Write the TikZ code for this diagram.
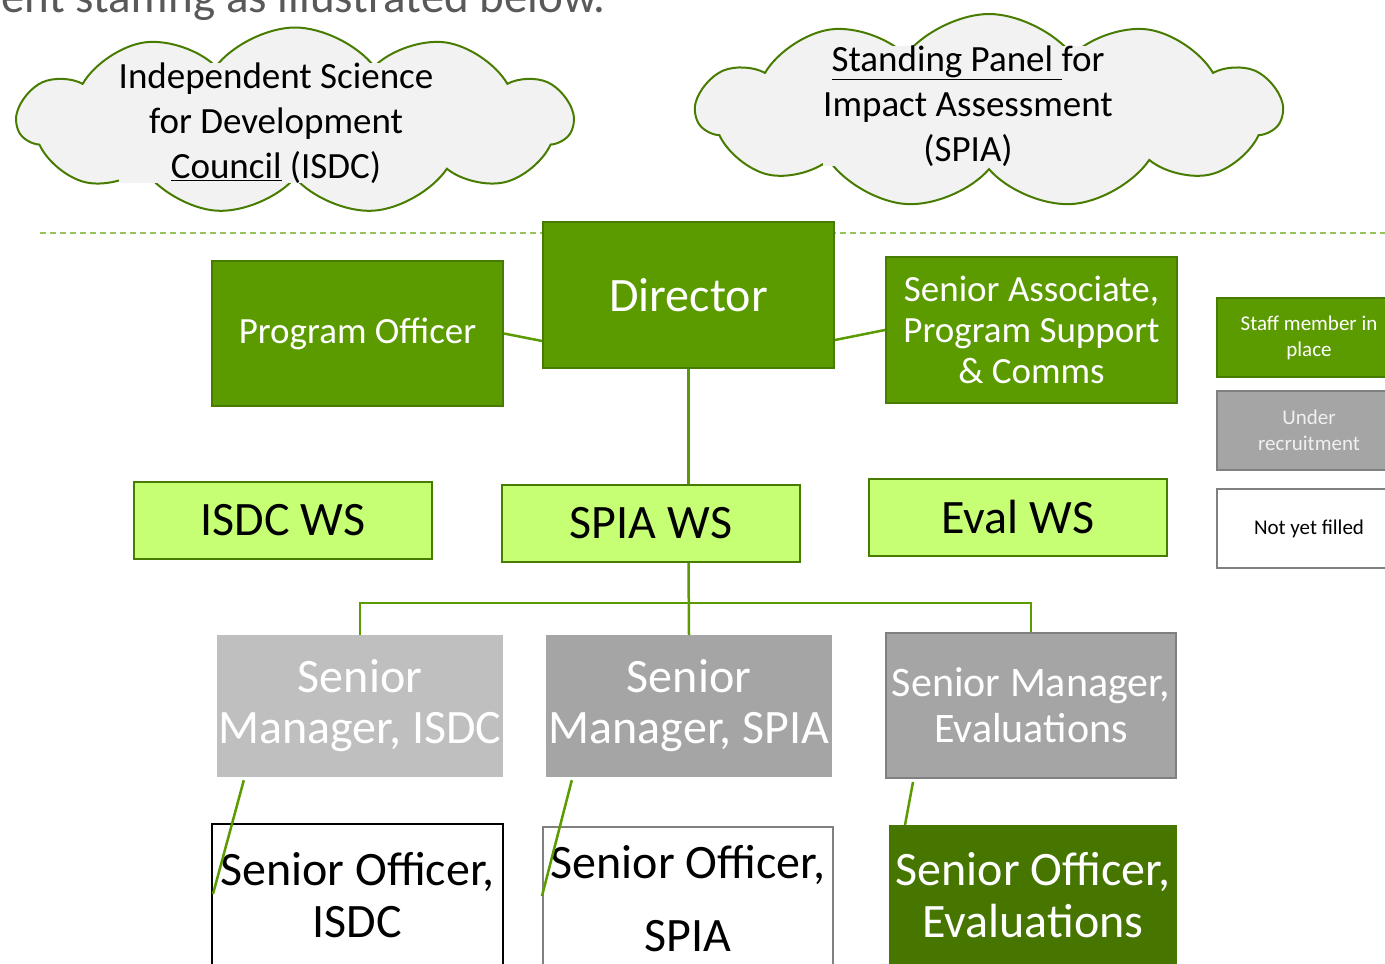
\documentclass[tikz,border=0pt]{standalone}
\usepackage{fontspec}
\setmainfont{Carlito}
\usetikzlibrary{shapes.symbols}
\definecolor{leafgreen}{RGB}{91,155,0}
\definecolor{leafborder}{RGB}{72,124,0}
\definecolor{deepgreen}{RGB}{70,117,0}
\definecolor{limegreen}{RGB}{198,255,116}
\definecolor{paleline}{RGB}{150,196,90}
\definecolor{hiregray}{RGB}{165,165,165}
\definecolor{lightgray}{RGB}{191,191,191}
\definecolor{edgegray}{RGB}{128,128,128}
\definecolor{cloudfill}{RGB}{242,242,242}
\definecolor{leadgray}{RGB}{89,89,89}

\begin{document}
\begin{tikzpicture}[x=1pt, y=-1pt,
  staffbox/.style={rectangle, draw=leafborder, fill=leafgreen, line width=2pt, text=white, align=center, inner sep=0pt, minimum width=291pt, minimum height=146pt},
  wsbox/.style={rectangle, draw=leafborder, fill=limegreen, line width=2pt, minimum width=298pt, minimum height=77pt, inner sep=0pt, font=\fontsize{48}{52}\selectfont},
  hirebox/.style={rectangle, fill=hiregray, text=white, align=center, inner sep=0pt, minimum width=286pt, minimum height=142pt, font=\fontsize{48}{51}\selectfont},
  openbox/.style={rectangle, draw=black, fill=white, line width=2pt, align=center, inner sep=0pt, minimum width=291pt, minimum height=142pt, font=\fontsize{48}{52}\selectfont},
  keybox/.style={rectangle, line width=2pt, align=center, inner sep=0pt, minimum width=184pt, minimum height=79pt, font=\fontsize{21}{26}\selectfont},
  panel/.style={cloud, cloud puffs=11, cloud puff arc=105, cloud ignores aspect, draw=leafborder, fill=cloudfill, line width=2pt, inner sep=0pt},
  paneltext/.style={align=center, fill=cloudfill, inner sep=0pt, font=\fontsize{37}{45}\selectfont},
  link/.style={draw=leafgreen, line width=2.5pt},
  sepline/.style={draw=paleline, line width=1.5pt, dash pattern=on 6pt off 4pt}
]
\useasboundingbox (0,0) rectangle (1385,964);
\clip (0,0) rectangle (1385,964);

% lead-in sentence, cut off by the page edge
\node[anchor=base east, text=leadgray, font=\fontsize{47}{50}\selectfont, inner sep=0pt] (lead) at (606,12) {ent staffing as illustrated below.};

% advisory panels
\node[panel, minimum width=555pt, minimum height=187pt] (isdc) at (295,121) {};
\node[paneltext] (isdctext) at (276,123) {Independent Science\\for Development\\\underline{Council} (ISDC)};
\node[panel, minimum width=585pt, minimum height=194pt] (spia) at (989,111) {};
\node[paneltext] (spiatext) at (968,106) {\underline{Standing Panel }for\\Impact Assessment\\(SPIA)};

% separator under the panels
\draw[sepline] (40,233) -- (1385,233);

% Row 1: director and direct reports
\node[staffbox, font=\fontsize{48}{52}\selectfont] (director) at (688.5,295) {Director};
\node[staffbox, minimum height=145pt, font=\fontsize{37}{41}\selectfont] (progoff) at (357.5,333.5) {Program Officer};
\node[staffbox, font=\fontsize{37}{41}\selectfont] (assoc) at (1031.5,330) {Senior Associate,\\Program Support\\\& Comms};

% Row 2: workstreams
\node[wsbox] (isdcws) at (283,520.5) {ISDC WS};
\node[wsbox] (spiaws) at (651,523.5) {SPIA WS};
\node[wsbox] (evalws) at (1018,517.5) {Eval WS};

% Row 3: senior managers
\node[hirebox, fill=lightgray] (smisdc) at (360,706) {Senior\\Manager, ISDC};
\node[hirebox] (smspia) at (689,706) {Senior\\Manager, SPIA};
\node[hirebox, draw=edgegray, line width=2pt, minimum width=290pt, minimum height=145pt, font=\fontsize{42}{46}\selectfont] (smeval) at (1031,705.5) {Senior Manager,\\Evaluations};

% Row 4: senior officers
\node[openbox] (soisdc) at (357.5,895) {Senior Officer,\\ISDC};
\node[openbox, draw=edgegray, minimum width=290pt, minimum height=143pt] (sospia) at (688,898.5) {Senior Officer,\\[21pt]SPIA};
\node[openbox, draw=deepgreen, fill=deepgreen, text=white, minimum width=286pt, minimum height=138pt] (soeval) at (1033,895) {Senior Officer,\\Evaluations};

% key
\node[keybox, draw=leafborder, fill=leafgreen, text=white] (keystaff) at (1309,337.5) {Staff member in\\place};
\node[keybox, draw=edgegray, fill=hiregray, text=white!94!black] (keyhire) at (1309,430) {Under\\recruitment};
\node[keybox, draw=edgegray, fill=white] (keyopen) at (1309,528.5) {Not yet filled};

% reporting lines
\coordinate (bus) at (689,603);
\draw[link] (progoff.east) -- ([shift={(0,46)}]director.west);
\draw[link] ([shift={(0,45)}]director.east) -- (assoc.west);
\draw[link] (director.south) -- (director.south |- spiaws.north);
\draw[link] (spiaws.south -| director.south) -- (smspia.north);
\draw[link] (smisdc.north) |- (bus) -| (smeval.north);
\draw[link] ([shift={(27,3)}]smisdc.south west) -- ([shift={(2,71)}]soisdc.north west);
\draw[link] ([shift={(26,3)}]smspia.south west) -- ([shift={(0,70)}]sospia.north west);
\draw[link] ([shift={(28,3)}]smeval.south west) -- ([shift={(16,0)}]soeval.north west);

\end{tikzpicture}
\end{document}
